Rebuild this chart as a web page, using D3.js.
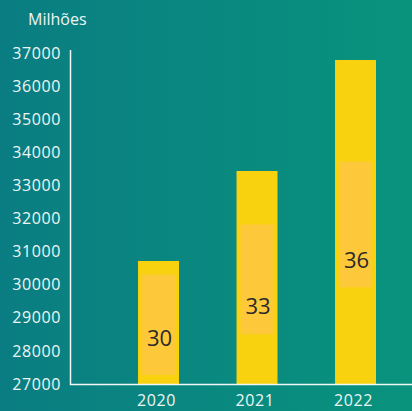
<!DOCTYPE html>
<html>
<head>
<meta charset="utf-8">
<script src="https://cdn.jsdelivr.net/npm/d3@7"></script>
<style>
  html, body { margin: 0; padding: 0; }
  body { width: 412px; height: 411px; overflow: hidden; }
  text { font-family: "Open Sans", sans-serif; }
</style>
</head>
<body>
<div id="chart"></div>
<script>
// chart data
const years = ["2020", "2021", "2022"];
const values = [30716, 33435, 36789];        // bar tops, in millions
const labels = ["30", "33", "36"];           // value labels shown on the bars
const labelValues = [28390, 29340, 30730];   // where each label sits on the y scale
const boxTop = [30310, 31820, 33720];        // lighter label box, y-scale units
const boxBottom = [27270, 28500, 29920];
const yTicks = [27000, 28000, 29000, 30000, 31000, 32000, 33000, 34000, 35000, 36000, 37000];

const width = 412, height = 411;
const margin = { top: 50, right: 0, bottom: 27, left: 70 };

const svg = d3.select("#chart").append("svg")
    .attr("width", width)
    .attr("height", height);

// teal background
const grad = svg.append("defs").append("linearGradient")
    .attr("id", "bg")
    .attr("x1", "0%").attr("y1", "0%")
    .attr("x2", "100%").attr("y2", "0%");
grad.append("stop").attr("offset", "0%").attr("stop-color", "#0a7d82");
grad.append("stop").attr("offset", "100%").attr("stop-color", "#09937d");

svg.append("rect")
    .attr("width", width)
    .attr("height", height)
    .attr("fill", "url(#bg)");

// scales
const y = d3.scaleLinear()
    .domain([27000, 37000])
    .range([384, 53]);

const x = d3.scaleBand()
    .domain(years)
    .range([margin.left, width])
    .paddingInner(0.584)
    .paddingOuter(0.528)
    .align(0.654);

// bars
svg.append("g").selectAll("rect")
    .data(years)
    .join("rect")
    .attr("x", d => x(d))
    .attr("y", (d, i) => y(values[i]))
    .attr("width", x.bandwidth())
    .attr("height", (d, i) => y(27000) - y(values[i]))
    .attr("fill", "#f8d20e");

// lighter boxes behind the labels
svg.append("g").selectAll("rect")
    .data(years)
    .join("rect")
    .attr("x", d => x(d) + 4)
    .attr("y", (d, i) => y(boxTop[i]))
    .attr("width", x.bandwidth() - 8)
    .attr("height", (d, i) => y(boxBottom[i]) - y(boxTop[i]))
    .attr("fill", "#fdc93a");

// value labels
svg.append("g").selectAll("text")
    .data(years)
    .join("text")
    .attr("x", d => x(d) + x.bandwidth() / 2 + 1)
    .attr("y", (d, i) => y(labelValues[i]))
    .attr("dy", "0.36em")
    .attr("text-anchor", "middle")
    .attr("font-size", "22px")
    .attr("fill", "#2a2a2a")
    .text((d, i) => labels[i]);

// y axis
const yAxis = svg.append("g")
    .attr("transform", "translate(" + margin.left + ",0)")
    .call(d3.axisLeft(y).tickValues(yTicks).tickSize(0).tickPadding(9).tickFormat(d3.format("d")));
yAxis.select(".domain").remove();
yAxis.selectAll("text")
    .attr("font-size", "16px")
    .attr("letter-spacing", "0.6px")
    .attr("fill", "#eef6f4");

// x axis
const xAxis = svg.append("g")
    .attr("transform", "translate(0,384)")
    .call(d3.axisBottom(x).tickSize(0).tickPadding(11));
xAxis.select(".domain").remove();
xAxis.selectAll("text")
    .attr("dx", "-2px")
    .attr("font-size", "16px")
    .attr("letter-spacing", "0.6px")
    .attr("fill", "#eef6f4");

// axis lines
svg.append("path")
    .attr("d", "M" + (margin.left + 0.5) + ",50V" + 384.5 + "H" + width)
    .attr("fill", "none")
    .attr("stroke", "#f2f8f6")
    .attr("stroke-width", 1.5);

// unit label
svg.append("text")
    .attr("x", 28)
    .attr("y", 25)
    .attr("font-size", "16px")
    .attr("fill", "#eef6f4")
    .text("Milhões");
</script>
</body>
</html>
